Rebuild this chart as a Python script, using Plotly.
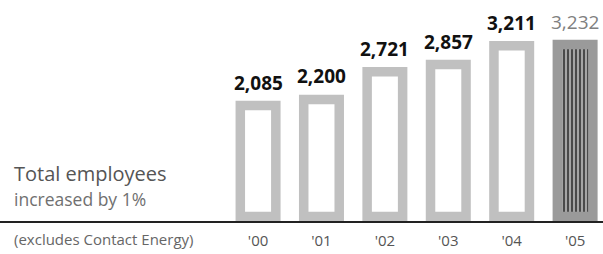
import plotly.graph_objects as go

years = ["'00", "'01", "'02", "'03", "'04", "'05"]
employees = [2085, 2200, 2721, 2857, 3211, 3232]
label_colors = ["#111111"] * 5 + ["#808080"]
label_weights = ["bold"] * 5 + ["normal"]
fill_colors = ["#ffffff"] * 5 + ["#4a4a4a"]
fill_shapes = ["", "", "", "", "", "|"]
line_colors = ["#c0c0c0"] * 5 + ["#9a9a9a"]

W, H = 603, 254
B = 33                      # bottom margin, axis line at y = 221
plot_h = H - B
px_per_unit = 0.0532
zero_px = 4.5               # bar base sits this many px above the axis line

fig = go.Figure()
fig.add_trace(go.Bar(
    x=years, y=employees,
    width=0.56,
    marker=dict(color=fill_colors, line=dict(color=line_colors, width=9.5),
                pattern=dict(shape=fill_shapes, fgcolor="#1a1a1a",
                             bgcolor="#505050", size=4, solidity=0.5)),
    hoverinfo="skip",
))

annotations = []
for yr, v, c, w in zip(years, employees, label_colors, label_weights):
    annotations.append(dict(
        text=f"{v:,}", x=yr, y=v, xref="x", yref="y",
        xanchor="center", yanchor="bottom", yshift=8, showarrow=False,
        font=dict(family="Open Sans", size=19, color=c, weight=w)))

def px_to_paper(y_px):
    return (plot_h - y_px) / plot_h

left_texts = [
    ("Total employees", 173, 20, "#555555"),
    ("increased by 1%", 199, 17.5, "#707070"),
    ("(excludes Contact Energy)", 239, 15, "#666666"),
]
for t, ypx, size, col in left_texts:
    annotations.append(dict(
        text=t, x=12 / W, y=px_to_paper(ypx), xref="paper", yref="paper",
        xanchor="left", yanchor="middle", showarrow=False,
        font=dict(family="Open Sans", size=size, color=col)))

fig.update_layout(
    width=W, height=H,
    margin=dict(l=0, r=0, t=0, b=B),
    paper_bgcolor="white", plot_bgcolor="white",
    showlegend=False,
    xaxis=dict(range=[-4.07, 5.44], showline=True, linecolor="#222222", linewidth=1.5,
               showgrid=False, zeroline=False, ticks="", ticklabelstandoff=5,
               tickfont=dict(family="Open Sans", size=15, color="#555555")),
    yaxis=dict(range=[-zero_px / px_per_unit, (plot_h - zero_px) / px_per_unit],
               visible=False),
    annotations=annotations,
)

fig.write_html("out.html", config={"displayModeBar": False},
               post_script="document.body.style.margin='0';")
